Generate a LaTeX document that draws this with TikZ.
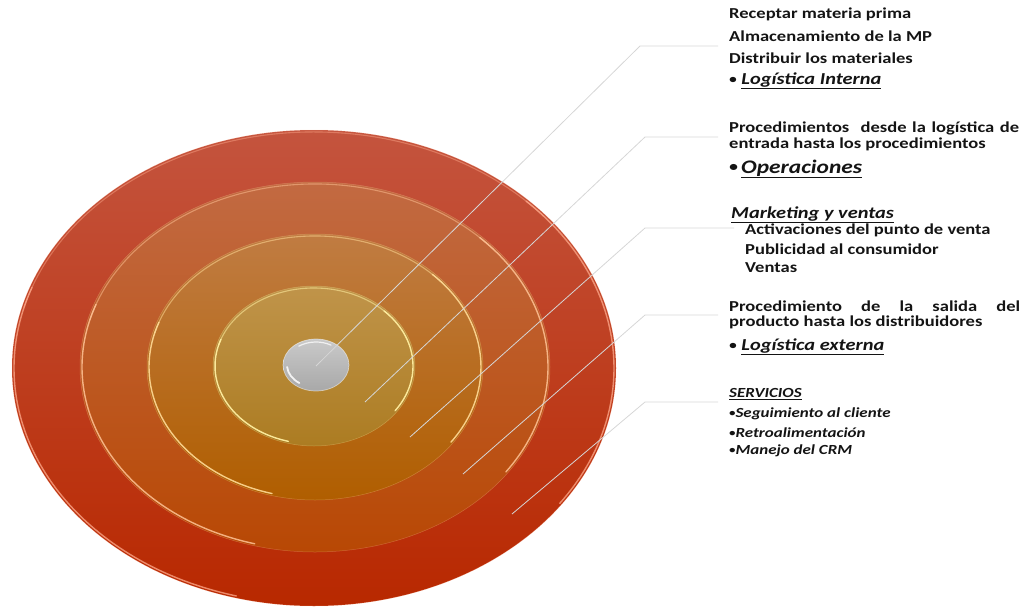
\documentclass[tikz,border=0pt]{standalone}
\usepackage{fontspec}
\setmainfont{Carlito}[FakeStretch=1.22]
\definecolor{leader}{RGB}{214,214,214}
\definecolor{r1t}{RGB}{196,84,62}
\definecolor{r1b}{RGB}{184,40,0}
\definecolor{r2t}{RGB}{194,106,66}
\definecolor{r2b}{RGB}{184,72,4}
\definecolor{r3t}{RGB}{192,124,66}
\definecolor{r3b}{RGB}{176,94,0}
\definecolor{r4t}{RGB}{192,148,74}
\definecolor{r4b}{RGB}{172,124,34}
\definecolor{rim1}{RGB}{255,170,140}
\definecolor{rim2}{RGB}{255,195,150}
\definecolor{rim3}{RGB}{255,218,150}
\definecolor{rim4}{RGB}{255,238,160}
\definecolor{txt}{RGB}{20,20,20}
\newcommand{\bul}{\raisebox{0.08em}{\scalebox{0.75}{•}}}
% \rimarcs{centre}{xr}{yr}{colour}{opacity}
\newcommand{\rimarcs}[5]{%
  \draw[#4, line width=1.1pt, opacity=#5*0.6, line cap=round] (#1) ++(195:#2 and #3) arc[start angle=195, end angle=320, x radius=#2, y radius=#3];
  \draw[#4, line width=1.4pt, opacity=#5, line cap=round] (#1) ++(105:#2 and #3) arc[start angle=105, end angle=200, x radius=#2, y radius=#3];
  \draw[#4, line width=1.4pt, opacity=#5, line cap=round] (#1) ++(-45:#2 and #3) arc[start angle=-45, end angle=35, x radius=#2, y radius=#3];
}
\tikzset{
  ringfill/.style={draw=#1, line width=0.5pt, draw opacity=0.3},
  leaderline/.style={draw=leader, line width=0.8pt},
  lbl/.style={anchor=west, inner sep=0pt, text=txt, font=\fontsize{15.2}{18}\selectfont\bfseries},
  head/.style={anchor=west, inner sep=0pt, text=txt, font=\fontsize{16.7}{19}\selectfont\bfseries\itshape},
  small/.style={anchor=west, inner sep=0pt, text=txt, font=\fontsize{13.9}{16}\selectfont\bfseries\itshape},
}
\begin{document}
\begin{tikzpicture}[x=1pt,y=-1pt]
\useasboundingbox (0,0) rectangle (1026,608);
% rings
\coordinate (c1) at (314,368);
\coordinate (c2) at (315,367);
\coordinate (c3) at (315,367);
\coordinate (c4) at (314,366);
\shade[top color=r1t, bottom color=r1b, ringfill=rim1] (c1) ellipse [x radius=302, y radius=238];
\rimarcs{c1}{300}{236}{rim1}{0.75}
\shade[top color=r2t, bottom color=r2b, ringfill=rim2] (c2) ellipse [x radius=235, y radius=185];
\rimarcs{c2}{233}{183}{rim2}{0.85}
\shade[top color=r3t, bottom color=r3b, ringfill=rim3] (c3) ellipse [x radius=168, y radius=133];
\rimarcs{c3}{166}{131}{rim3}{0.9}
\shade[top color=r4t, bottom color=r4b, ringfill=rim4] (c4) ellipse [x radius=101, y radius=80];
\rimarcs{c4}{99}{78}{rim4}{0.95}
% centre
\coordinate (c0) at (316,365);
\shade[top color=gray!42, bottom color=gray!68, draw=white, line width=0.7pt, draw opacity=0.5] (c0) ellipse [x radius=33, y radius=26];
\draw[white, line width=1.8pt, opacity=0.85, line cap=round] (c0) ++(125:29 and 22) arc[start angle=125, end angle=175, x radius=29, y radius=22];
\draw[white, line width=1.2pt, opacity=0.75, line cap=round] (c0) ++(235:30 and 23) arc[start angle=235, end angle=300, x radius=30, y radius=23];
% anchor points
\coordinate (p1) at (316,366);
\coordinate (p2) at (365,402);
\coordinate (p3) at (410,437);
\coordinate (p4) at (463,474);
\coordinate (p5) at (512,514);
\coordinate (k1) at (640,46);
\coordinate (k2) at (645,137);
\coordinate (k3) at (645,228);
\coordinate (k4) at (645,315);
\coordinate (k5) at (645,402);
% texts
\node[lbl] (t1a) at (729,14) {Receptar materia prima};
\node[lbl] (t1b) at (729,36) {Almacenamiento de la MP};
\node[lbl] (t1c) at (729,58) {Distribuir los materiales};
\node[head] (t1d) at (729,81) {\bul\ \underline{Logística Interna}};
\node[lbl] (t2a) at (729,128) {\makebox[290pt][s]{Procedimientos\ \ desde la logística de}};
\node[lbl] (t2b) at (729,144) {entrada hasta los procedimientos};
\node[head, font=\fontsize{19.2}{22}\selectfont\bfseries\itshape] (t2c) at (729,169) {\bul\,\underline{Operaciones}};
\node[head] (t3a) at (731,215) {\underline{Marketing y ventas}};
\node[lbl] (t3b) at (745,230) {Activaciones del punto de venta};
\node[lbl] (t3c) at (745,249) {Publicidad al consumidor};
\node[lbl] (t3d) at (745,268) {Ventas};
\node[lbl] (t4a) at (729,306) {\makebox[291pt][s]{Procedimiento de la salida del}};
\node[lbl] (t4b) at (729,322) {producto hasta los distribuidores};
\node[head] (t4c) at (729,347) {\bul\ \underline{Logística externa}};
\node[small] (t5a) at (729,394) {\underline{SERVICIOS}};
\node[small] (t5b) at (729,414) {\bul Seguimiento al cliente};
\node[small] (t5c) at (729,433) {\bul Retroalimentación};
\node[small] (t5d) at (729,451) {\bul Manejo del CRM};
% leader lines
\draw[leaderline] (p1) -- (k1) -- ([xshift=-11pt]t1b.west |- k1);
\draw[leaderline] (p2) -- (k2) -- ([xshift=-11pt]t2a.west |- k2);
\draw[leaderline] (p3) -- (k3) -- ([xshift=-11pt]t3b.west |- k3);
\draw[leaderline] (p4) -- (k4) -- ([xshift=-11pt]t4a.west |- k4);
\draw[leaderline] (p5) -- (k5) -- ([xshift=-11pt]t5a.west |- k5);
\end{tikzpicture}
\end{document}
